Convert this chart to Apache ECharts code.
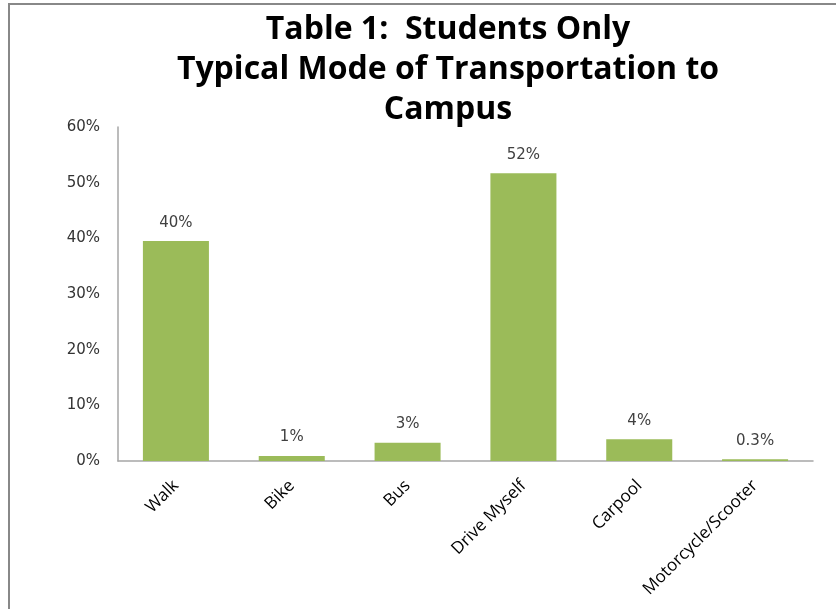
<!DOCTYPE html>
<html>
<head>
<meta charset="utf-8">
<script src="https://cdn.jsdelivr.net/npm/echarts@6/dist/echarts.min.js"></script>
<style>
html,body{margin:0;padding:0;background:#fff;}
#c{width:836px;height:609px;}
</style>
</head>
<body>
<div id="c"></div>
<script>
const categories = ['Walk', 'Bike', 'Bus', 'Drive Myself', 'Carpool', 'Motorcycle/Scooter'];
const values = [39.5, 0.9, 3.3, 51.7, 3.9, 0.3];
const yTicks = { min: 0, max: 60, interval: 10 };
const titleLines = ['Table 1:  Students Only', 'Typical Mode of Transportation to', 'Campus'];

const chart = echarts.init(document.getElementById('c'));
chart.setOption({
  animation: false,
  backgroundColor: '#fff',
  title: {
    text: titleLines.join('\n'),
    left: 443,
    top: 5,
    textAlign: 'center',
    textStyle: {
      fontFamily: 'Open Sans',
      fontWeight: 'bold',
      fontSize: 32,
      lineHeight: 40,
      color: '#000'
    }
  },
  graphic: [{
    type: 'polyline',
    shape: { points: [[9, 609], [9, 4], [836, 4]] },
    style: { stroke: '#888', lineWidth: 2, fill: null },
    silent: true
  }],
  grid: { left: 118, right: 23, top: 127, bottom: 148 },
  xAxis: {
    type: 'category',
    data: categories,
    axisLine: { lineStyle: { color: '#a6a6a6', width: 1.5 } },
    axisTick: { show: false },
    axisLabel: {
      rotate: 45,
      interval: 0,
      margin: 22,
      fontFamily: 'Open Sans',
      fontSize: 17,
      color: '#000'
    }
  },
  yAxis: {
    type: 'value',
    min: yTicks.min,
    max: yTicks.max,
    interval: yTicks.interval,
    splitLine: { show: false },
    axisLine: { show: true, lineStyle: { color: '#a6a6a6', width: 1.5 } },
    axisTick: { show: false },
    axisLabel: {
      formatter: v => v + '%',
      margin: 18,
      fontFamily: 'DejaVu Sans',
      fontSize: 15,
      color: '#333'
    }
  },
  series: [{
    type: 'bar',
    data: values,
    barWidth: '57%',
    itemStyle: { color: '#9BBB59' },
    label: {
      show: true,
      position: 'top',
      distance: 11,
      fontFamily: 'DejaVu Sans',
      fontSize: 15,
      color: '#404040',
      formatter: p => (p.value < 0.5 ? p.value.toFixed(1) : Math.round(p.value)) + '%'
    }
  }]
});
</script>
</body>
</html>
